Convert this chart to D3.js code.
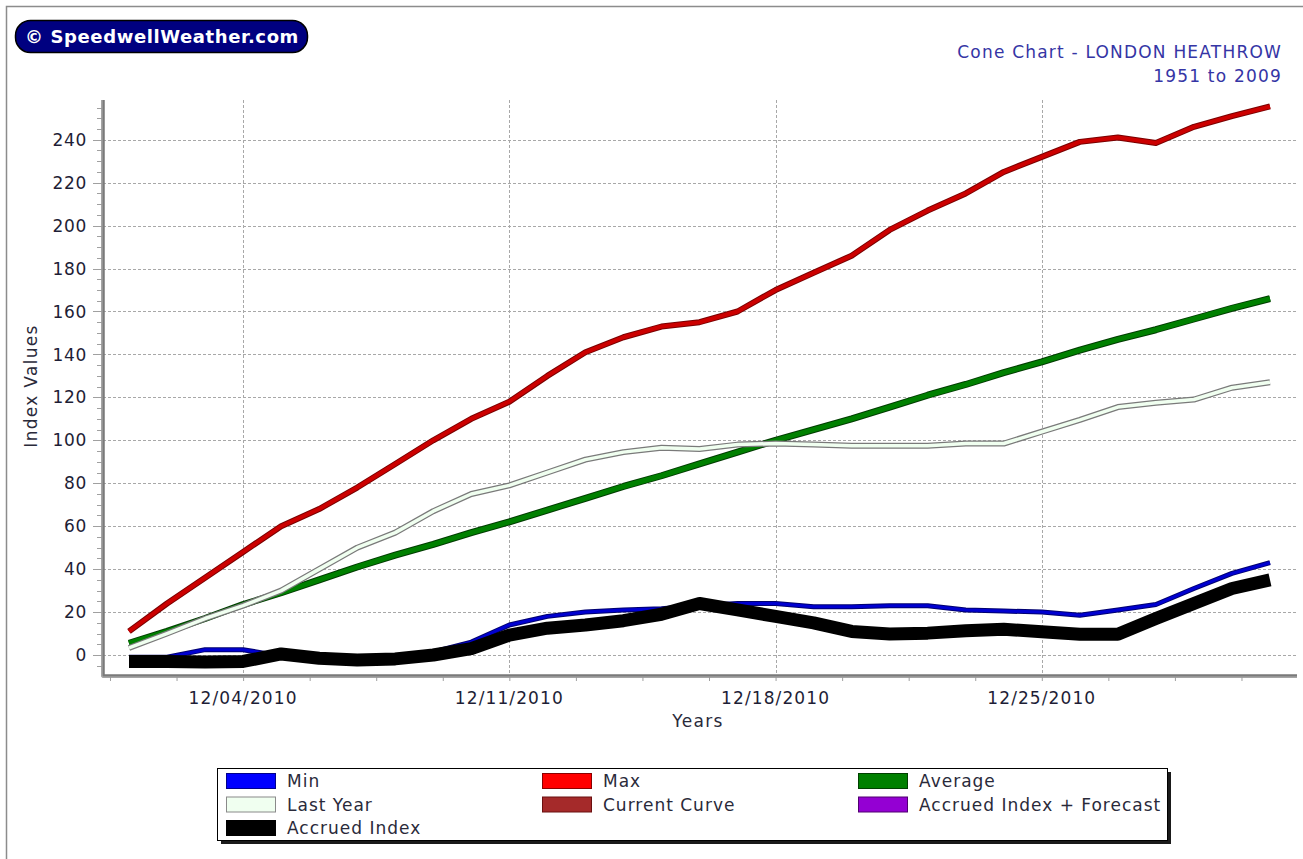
<!DOCTYPE html>
<html>
<head>
<meta charset="utf-8">
<script src="https://cdn.jsdelivr.net/npm/d3@7"></script>
<style>
  body { margin: 0; background: #fff; }
  svg text { font-family: "DejaVu Sans", Verdana, sans-serif; }
</style>
</head>
<body>
<svg id="chart" width="1303" height="859"></svg>
<script>
// days of December 2010
var dates = [
  "2010-12-01","2010-12-02","2010-12-03","2010-12-04","2010-12-05","2010-12-06","2010-12-07",
  "2010-12-08","2010-12-09","2010-12-10","2010-12-11","2010-12-12","2010-12-13","2010-12-14",
  "2010-12-15","2010-12-16","2010-12-17","2010-12-18","2010-12-19","2010-12-20","2010-12-21",
  "2010-12-22","2010-12-23","2010-12-24","2010-12-25","2010-12-26","2010-12-27","2010-12-28",
  "2010-12-29","2010-12-30","2010-12-31"
];
var minValues = [-1,-1,2.5,2.5,-0.5,-1,-2,-1,1.5,6,14,18,20,21,21.5,23,24,24,22.5,22.5,23,23,21,20.5,20,18.5,21,23.5,31,38,43];
var maxValues = [11,24,36,48,60,68,78,89,100,110,118,130,141,148,153,155,160,170,178,186,198,207,215,225,232,239,241,238.5,246,251,255.5];
var averageValues = [5.5,11,17,23.5,29,35,41,46.5,51.5,57,62,67.5,73,78.5,83.5,89,94.5,100,105,110,115.5,121,126,131.5,136.5,142,147,151.5,156.5,161.5,166];
var lastYearValues = [3.3,10,17,23,30,40,50,57,67,75,79,85,91,94.5,96.5,96,98,98.5,98,97.5,97.5,97.5,98.5,98.5,104,109.5,115.5,117.5,119,124.5,127];
var accruedValues = [-3,-3,-3.2,-3,0.5,-1.5,-2.3,-1.8,0,3,9.3,12.5,14,16,19,24,21,18,15,11,9.8,10.2,11.3,12,10.8,9.7,9.7,17,24,31,35];

var yTicks = [0,20,40,60,80,100,120,140,160,180,200,220,240];
var xTickDates = ["2010-12-04","2010-12-11","2010-12-18","2010-12-25"];

var legendItems = [
  {name: "Min", fill: "#0000ff", stroke: "#00008b"},
  {name: "Max", fill: "#ff0000", stroke: "#8b0000"},
  {name: "Average", fill: "#008000", stroke: "#004000"},
  {name: "Last Year", fill: "#f0fff0", stroke: "#8a8a8a"},
  {name: "Current Curve", fill: "#a52a2a", stroke: "#6a1010"},
  {name: "Accrued Index + Forecast", fill: "#9400d3", stroke: "#500070"},
  {name: "Accrued Index", fill: "#000000", stroke: "#000000"}
];

var parseDay = d3.timeParse("%Y-%m-%d");
var formatTick = d3.timeFormat("%m/%d/%Y");
var days = dates.map(parseDay);

var svg = d3.select("#chart");

var plotLeft = 103, plotRight = 1297, plotTop = 100, plotBottom = 676;

var x = d3.scaleTime()
  .domain([days[0], days[days.length - 1]])
  .range([129, 1270]);
var y = d3.scaleLinear()
  .domain([-10, 258.5])
  .range([676.5, 100]);

// outer frame
svg.append("path")
  .attr("d", "M6.5,859 V6.5 H1303")
  .attr("fill", "none").attr("stroke", "#8c8c8c").attr("stroke-width", 1.5);

// logo
svg.append("rect")
  .attr("x", 15.5).attr("y", 20.5).attr("width", 292).attr("height", 32)
  .attr("rx", 15).attr("fill", "#000080").attr("stroke", "#000").attr("stroke-width", 1.5);
svg.append("text")
  .attr("x", 162).attr("y", 43).attr("text-anchor", "middle")
  .attr("fill", "#fff").attr("font-weight", "bold").attr("font-size", "18px")
  .attr("letter-spacing", "0.6px")
  .text("\u00a9 SpeedwellWeather.com");

// title
svg.append("text")
  .attr("x", 1282).attr("y", 58).attr("text-anchor", "end")
  .attr("fill", "#3535a5").attr("font-size", "17px").attr("letter-spacing", "1.2px")
  .text("Cone Chart - LONDON HEATHROW");
svg.append("text")
  .attr("x", 1282).attr("y", 82).attr("text-anchor", "end")
  .attr("fill", "#3535a5").attr("font-size", "17px").attr("letter-spacing", "1.2px")
  .text("1951 to 2009");

// grid
var grid = svg.append("g");
grid.selectAll(".hgrid")
  .data(yTicks)
  .enter().append("line")
  .attr("x1", plotLeft).attr("x2", plotRight)
  .attr("y1", function(d) { return Math.round(y(d)) + 0.5; })
  .attr("y2", function(d) { return Math.round(y(d)) + 0.5; })
  .attr("stroke", "#a8a8a8").attr("stroke-dasharray", "3,2");
grid.selectAll(".vgrid")
  .data(xTickDates.map(parseDay))
  .enter().append("line")
  .attr("y1", plotTop).attr("y2", plotBottom)
  .attr("x1", function(d) { return Math.round(x(d)) + 0.5; })
  .attr("x2", function(d) { return Math.round(x(d)) + 0.5; })
  .attr("stroke", "#a8a8a8").attr("stroke-dasharray", "3,2");

// y axis
var yMinor = d3.range(-5, 258, 5);
svg.append("g").selectAll("line")
  .data(yMinor)
  .enter().append("line")
  .attr("x1", function(d) { return d % 20 === 0 ? 93 : 97; }).attr("x2", plotLeft)
  .attr("y1", function(d) { return Math.round(y(d)) + 0.5; })
  .attr("y2", function(d) { return Math.round(y(d)) + 0.5; })
  .attr("stroke", "#a0a0a0");
svg.append("g").selectAll("text")
  .data(yTicks)
  .enter().append("text")
  .attr("x", 87).attr("y", function(d) { return y(d); })
  .attr("dy", "0.36em").attr("text-anchor", "end")
  .attr("fill", "#1e1e36").attr("font-size", "17px").attr("letter-spacing", "0.7px")
  .text(function(d) { return d; });

// x axis (minor ticks every 42 hours, aligned to the labelled dates)
var xAxisG = svg.append("g").attr("transform", "translate(0," + plotBottom + ")");
var firstMajor = parseDay(xTickDates[0]);
var xMinor = d3.range(-2, 16).map(function(k) { return d3.timeHour.offset(firstMajor, k * 42); });
xAxisG.call(d3.axisBottom(x).tickValues(xMinor).tickSize(5).tickFormat(""))
  .call(function(g) { g.select(".domain").remove(); })
  .call(function(g) { g.selectAll(".tick line").attr("stroke", "#a0a0a0"); });
xAxisG.selectAll(".label")
  .data(xTickDates.map(parseDay))
  .enter().append("text")
  .attr("x", function(d) { return x(d); }).attr("y", 28)
  .attr("text-anchor", "middle").attr("fill", "#1e1e36")
  .attr("font-size", "17px").attr("letter-spacing", "1.1px")
  .text(function(d) { return formatTick(d); });

// axis lines
svg.append("path")
  .attr("d", "M" + plotLeft + "," + plotTop + " V" + plotBottom + " H" + plotRight)
  .attr("fill", "none").attr("stroke", "#7a7a7a").attr("stroke-width", 3.5)
  .attr("stroke-linejoin", "round");
svg.append("path")
  .attr("d", "M" + (plotLeft - 1) + "," + plotTop + " V" + (plotBottom + 1) + " H" + plotRight)
  .attr("fill", "none").attr("stroke", "#b0b0b0").attr("stroke-width", 1)
  .attr("stroke-linejoin", "round");

// axis titles
svg.append("text")
  .attr("transform", "translate(37,386) rotate(-90)")
  .attr("text-anchor", "middle").attr("fill", "#2a2a3a")
  .attr("font-size", "17px").attr("letter-spacing", "1.3px")
  .text("Index Values");
svg.append("text")
  .attr("x", 698).attr("y", 727).attr("text-anchor", "middle")
  .attr("fill", "#2a2a3a").attr("font-size", "17px").attr("letter-spacing", "1.3px")
  .text("Years");

// series
var line = d3.line()
  .x(function(d, i) { return x(days[i]); })
  .y(function(d) { return y(d); });

function tube(values, outer, outerW, inner, innerW) {
  var g = svg.append("g").attr("fill", "none")
    .attr("stroke-linejoin", "round").attr("stroke-linecap", "butt");
  g.append("path").attr("d", line(values)).attr("stroke", outer).attr("stroke-width", outerW);
  if (inner) {
    g.append("path").attr("d", line(values)).attr("stroke", inner).attr("stroke-width", innerW);
  }
}

tube(averageValues, "#003c00", 7, "#008000", 5);
tube(lastYearValues, "#7a7a7a", 6, "#f0fff0", 3.5);
tube(maxValues, "#7a0000", 6, "#cc0000", 4);
tube(minValues, "#000070", 5, "#0000d0", 3);
tube(accruedValues, "#000000", 13, null, 0);

// legend
var legend = svg.append("g");
legend.append("rect")
  .attr("x", 221).attr("y", 772).attr("width", 950).attr("height", 72)
  .attr("fill", "#1a1a1a");
legend.append("rect")
  .attr("x", 217.5).attr("y", 768.5).attr("width", 950).attr("height", 72)
  .attr("fill", "#fff").attr("stroke", "#000").attr("stroke-width", 1);

var colX = [226, 542, 858];
var rowY = [781, 804.5, 828];
legendItems.forEach(function(item, i) {
  var cx = colX[i % 3], cy = rowY[Math.floor(i / 3)];
  legend.append("rect")
    .attr("x", cx + 0.5).attr("y", cy - 7.5).attr("width", 49).attr("height", 15)
    .attr("fill", item.fill).attr("stroke", item.stroke).attr("stroke-width", 1);
  legend.append("text")
    .attr("x", cx + 61).attr("y", cy).attr("dy", "0.36em")
    .attr("fill", "#2a2a3a").attr("font-size", "17px").attr("letter-spacing", "1px")
    .text(item.name);
});
</script>
</body>
</html>
